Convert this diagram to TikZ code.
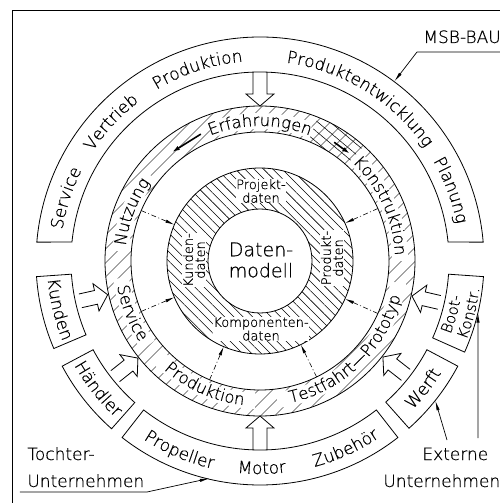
\documentclass[tikz,border=0pt]{standalone}
\usepackage{fontspec}
\newfontfamily\cad{DejaVu Sans ExtraLight}[FakeBold=0.5]
\usetikzlibrary{arrows.meta,decorations.text,patterns.meta}

\newcommand\cadsize[1]{\cad\fontsize{#1}{#1}\selectfont}
% words on a circle about the origin, reading clockwise (letters face outward)
\newcommand\cwtext[4]{%
  \path[decorate,decoration={text along path,text align=center,
      text={|\cadsize{#3}|#4}}]
    (#2+60:#1) arc[start angle=#2+60,end angle=#2-60,radius=#1];}
% words reading anticlockwise (letters face the centre)
\newcommand\ccwtext[4]{%
  \path[decorate,decoration={text along path,text align=center,
      text={|\cadsize{#3}|#4}}]
    (#2-60:#1) arc[start angle=#2-60,end angle=#2+60,radius=#1];}
% curved box between radii 189 and 224
\newcommand\bandbox[2]{%
  \draw (#1:189) arc[start angle=#1,end angle=#2,radius=189]
    -- (#2:224) arc[start angle=#2,end angle=#1,radius=224] -- cycle;}
% hollow arrow pointing to the centre
\newcommand\blockarrow[3]{%
  \draw[rotate=#1] (#2,7) -- (#3+12,7) -- (#3+12,14) -- (#3,0)
    -- (#3+12,-14) -- (#3+12,-7) -- (#2,-7);}

\begin{document}
\begin{tikzpicture}[x=1pt,y=1pt,line width=0.8pt,
  hatchdata/.style={pattern={Lines[angle=-45,distance=6.6pt,line width=0.55pt]}},
  hatchring/.style={pattern={Lines[angle=45,distance=10.5pt,line width=0.55pt]}},
  hatchcross/.style={pattern={Lines[angle=-40,distance=8pt,line width=0.55pt]}},
  databox/.style={font=\cad\fontsize{13}{12}\selectfont,fill=white,inner sep=0.6pt,align=center},
  infoflow/.style={dash pattern=on 5pt off 2.5pt on 1pt off 2.5pt,line width=0.6pt,
    -{Latex[length=9pt,width=3.2pt]}},
  leader/.style={line width=0.7pt,-{Latex[length=10pt,width=3.2pt]}},
  flowarrow/.style={line width=1.6pt,-{Latex[length=8pt,width=4.5pt]}},
  sidetext/.style={font=\cadsize{17},inner sep=0pt}]

\useasboundingbox (-260,-242) rectangle (240,261);
\draw (-248,-260) -- (-248,251) -- (260,251);

% hatched rings
\path[hatchdata,even odd rule] (0,0) circle (93) (0,0) circle (52);
\path[hatchring,even odd rule] (0,0) circle (155) (0,0) circle (129);
\path[hatchcross] (48:129) arc[start angle=48,end angle=68,radius=129]
  -- (68:155) arc[start angle=68,end angle=48,radius=155] -- cycle;
% keep the stage names clear of the hatching
\foreach \a/\b in {69/111,0/47,142/176,187/217,224/268,-83/-9}
  \draw[white,line width=16pt] (\a:140) arc[start angle=\a,end angle=\b,radius=140];

% rings
\draw (0,0) circle (52);
\draw (0,0) circle (93);
\draw (0,0) circle (129);
\draw (0,0) circle (155);

% outer bands
\draw (4.84:224) arc[start angle=4.84,end angle=175.16,radius=224]
  -- (174.26:189) arc[start angle=174.26,end angle=5.74,radius=189] -- cycle;
\bandbox{184}{203}
\bandbox{208}{228.5}
\bandbox{232}{308}
\bandbox{311.7}{332}
\bandbox{336}{356}

% inputs into the process ring
\blockarrow{90}{189}{155}
\blockarrow{270}{189}{155}
\blockarrow{192.5}{184}{156}
\blockarrow{218.5}{185}{156}
\blockarrow{-38}{185}{156}
\blockarrow{-13}{184}{156}

% data flow into the data model
\foreach \a in {157,203,24,-24,247,296}
  \draw[infoflow] (\a:129) -- (\a:93);

% flow along the process ring
\draw[flowarrow] (115:140) -- (129:140);
\draw[flowarrow] (58:140) -- (50:140);

% data model
\node[font=\cad\fontsize{19}{21}\selectfont,align=center,inner sep=0pt] (dm) at (1,1) {Daten-\\modell};
\node[databox] (pd) at (1,70) {Projekt-\\daten};
\node[databox,rotate=90] (kd) at (-66,1) {Kunden-\\daten};
\node[databox,rotate=90] (prd) at (72,3) {Produkt-\\daten};
\node[databox] (kod) at (1,-68) {Komponenten-\\daten};

% process stages
\cwtext{135}{90}{16.5}{Erfahrungen}
\cwtext{135}{24.5}{16.5}{Konstruktion}
\cwtext{135}{159}{16.5}{Nutzung}
\ccwtext{145}{202}{16.5}{Service}
\ccwtext{145}{246}{16.5}{Produktion}
\ccwtext{145}{-46}{16.5}{Testfahrt—Prototyp}

% company divisions
\cwtext{200}{162}{17}{Service}
\cwtext{200}{137}{17}{Vertrieb}
\cwtext{200}{108}{17}{Produktion}
\cwtext{200}{58.4}{17}{Produktentwicklung}
\cwtext{200}{20.3}{17}{Planung}
\ccwtext{213}{247}{17}{Propeller}
\ccwtext{213}{270.5}{17}{Motor}
\ccwtext{213}{294.5}{17}{Zubehör}
\ccwtext{213}{193.5}{17}{Kunden}
\ccwtext{213}{218.3}{17}{Händler}
\ccwtext{213}{-38}{17}{Werft}
\ccwtext{204}{-15.5}{15}{Boot-}
\ccwtext{221}{-14}{15}{Konstr.}

% captions and leaders
\node[sidetext,anchor=base west] (msb) at (163,218) {MSB-BAU};
\node[sidetext,anchor=base west] (toch1) at (-233,-199) {Tochter-};
\node[sidetext,anchor=base west] (toch2) at (-233,-226) {Unternehmen};
\node[sidetext,anchor=base west] (ext1) at (162,-199) {Externe};
\node[sidetext,anchor=base west] (ext2) at (123,-226) {Unternehmen};

\coordinate (msbknee) at (157,209);
\coordinate (msbtip) at (53.2:224);
\draw[leader] (250,209) -- (msbknee) -- (msbtip);
\coordinate (tochknee) at (-113,-231);
\coordinate (tochtip) at (257:223);
\draw[leader] (-240,-231) -- (tochknee) -- (tochtip);
\coordinate (werftfoot) at (187,-179);
\coordinate (werfttip) at (-38.5:224);
\draw[leader] (werftfoot) -- (werfttip);
\coordinate (bootfoot) at (218,-177);
\coordinate (boottip) at (-13.3:224);
\draw[leader] (bootfoot) -- (boottip);
\end{tikzpicture}
\end{document}
